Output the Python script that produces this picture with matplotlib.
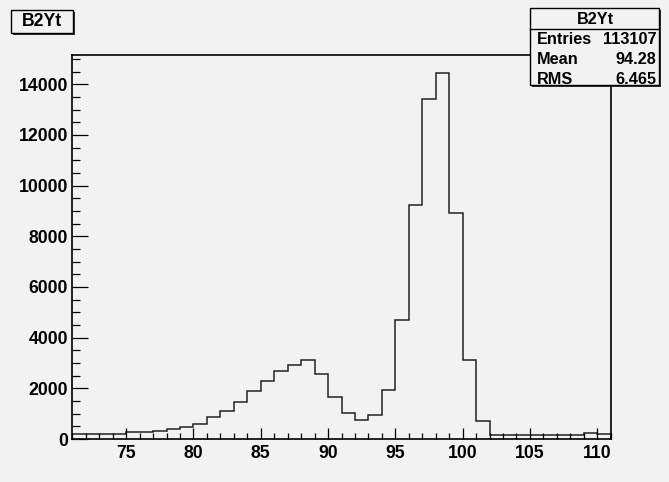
import numpy as np
import matplotlib.pyplot as plt
from matplotlib.patches import Rectangle
from matplotlib.ticker import MultipleLocator

# bin edges 71..111, one unit wide
edges = np.arange(71, 112, 1)
counts = [210, 210, 210, 210, 277, 277, 316, 383, 474, 580,
          870, 1120, 1475, 1910, 2280, 2675, 2940, 3125, 2570, 1675,
          1040, 750, 960, 1925, 4705, 9225, 13405, 14445, 8920, 3125,
          725, 158, 158, 165, 175, 175, 175, 175, 225, 185]

hist_name = "B2Yt"
stat_names = ["Entries", "Mean", "RMS"]
stat_values = ["113107", "94.28", "6.465"]

W, H = 669, 482
bg = "#f2f2f2"
plt.rcParams['font.family'] = ['Liberation Sans', 'DejaVu Sans']

fig = plt.figure(figsize=(W / 100, H / 100), dpi=100, facecolor=bg)

def fx(x):
    return x / W

def fy(y):
    return 1 - y / H

# axes frame in pixels: left 72, right 611, top 55, bottom 439
ax = fig.add_axes([fx(72.3), fy(439), fx(610.7 - 72.3), (439 - 54.7) / H])
ax.set_facecolor(bg)
ax.stairs(counts, edges, color="#222222", linewidth=1.1)
ax.set_xlim(71, 111)
ax.set_ylim(0, 1.05 * max(counts))

for s in ax.spines.values():
    s.set_linewidth(1.2)
    s.set_color("black")

ax.xaxis.set_major_locator(MultipleLocator(5))
ax.xaxis.set_minor_locator(MultipleLocator(1))
ax.yaxis.set_major_locator(MultipleLocator(2000))
ax.yaxis.set_minor_locator(MultipleLocator(500))
ax.tick_params(axis="x", which="major", direction="in", length=8.2, width=0.9, pad=4.5)
ax.tick_params(axis="x", which="minor", direction="in", length=4.1, width=0.9)
ax.tick_params(axis="y", which="major", direction="in", length=11.8, width=0.9, pad=3)
ax.tick_params(axis="y", which="minor", direction="in", length=5.9, width=0.9)
for lab in ax.get_xticklabels() + ax.get_yticklabels():
    lab.set_fontsize(12.7)
    lab.set_fontweight("bold")
ax.set_xticks([75, 80, 85, 90, 95, 100, 105, 110])

# title box with shadow
def box(x0, y0, x1, y1):
    fig.patches.append(Rectangle((fx(x0 + 2), fy(y1 + 2)), fx(x1 - x0), (y1 - y0) / H,
                                 transform=fig.transFigure, facecolor="#333333",
                                 edgecolor="none", zorder=10))
    fig.patches.append(Rectangle((fx(x0), fy(y1)), fx(x1 - x0), (y1 - y0) / H,
                                 transform=fig.transFigure, facecolor=bg,
                                 edgecolor="black", linewidth=1.0, zorder=11))

box(11, 10, 73, 33)
fig.text(fx(42), fy(22), hist_name, ha="center", va="center", fontsize=12.7,
         fontweight="bold", zorder=12)

# stats box
box(530, 8, 659, 85)
fig.add_artist(plt.Line2D([fx(530), fx(659)], [fy(29), fy(29)], color="black",
                          linewidth=1.0, zorder=12))
fig.text(fx(595), fy(19.5), hist_name, ha="center", va="center", fontsize=11.7,
         fontweight="bold", zorder=12)
for i, (n, v) in enumerate(zip(stat_names, stat_values)):
    yy = 39 + 20 * i
    fig.text(fx(536.5), fy(yy), n, ha="left", va="center", fontsize=11.7,
             fontweight="bold", zorder=12)
    fig.text(fx(656.5), fy(yy), v, ha="right", va="center", fontsize=11.7,
             fontweight="bold", zorder=12)

fig.savefig("out.png", dpi=100, facecolor=bg)
